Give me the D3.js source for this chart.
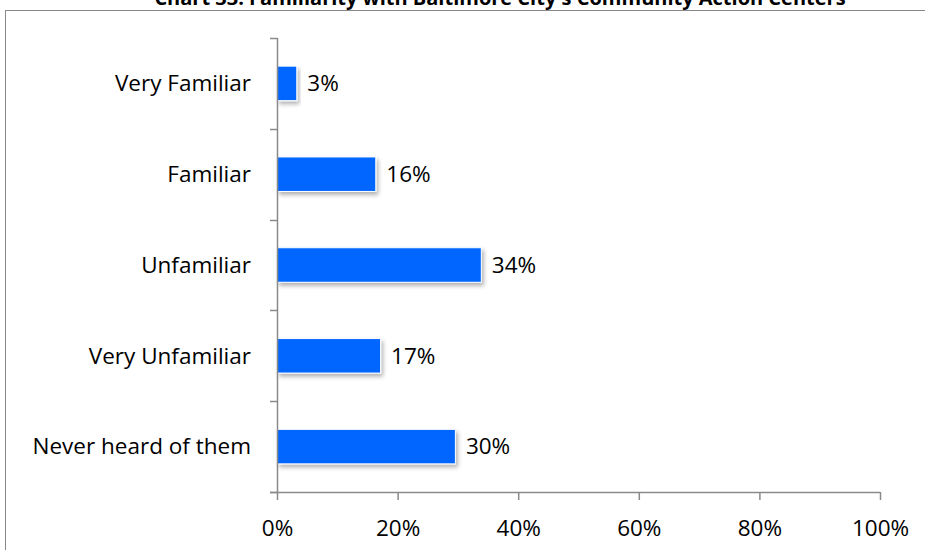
<!DOCTYPE html>
<html>
<head>
<meta charset="utf-8">
<script src="https://cdn.jsdelivr.net/npm/d3@7"></script>
<style>
  body { margin: 0; background: #fff; }
  svg { display: block; }
  text { font-family: "Open Sans", sans-serif; fill: #000; }
</style>
</head>
<body>
<svg id="chart"></svg>
<script>
const title = "Chart 33: Familiarity with Baltimore City's Community Action Centers";
const categories = ["Very Familiar", "Familiar", "Unfamiliar", "Very Unfamiliar", "Never heard of them"];
const values = [3.2, 16.3, 33.8, 17.1, 29.5];
const xTicks = [0, 20, 40, 60, 80, 100];

const width = 925;
const height = 550;
const margin = { top: 38, left: 277, right: 45, bottom: 58 };
const fontSize = "22.5px";

const svg = d3.select("#chart")
    .attr("width", width)
    .attr("height", height);

const defs = svg.append("defs");
const shadow = defs.append("filter")
    .attr("id", "shadow")
    .attr("x", "-10%").attr("y", "-20%")
    .attr("width", "130%").attr("height", "160%");
shadow.append("feDropShadow")
    .attr("dx", 2).attr("dy", 3)
    .attr("stdDeviation", 2)
    .attr("flood-color", "#000")
    .attr("flood-opacity", 0.3);

// outer border of the chart area
svg.append("rect")
    .attr("x", 5.5).attr("y", 10.5)
    .attr("width", width + 10).attr("height", height + 10)
    .attr("fill", "none")
    .attr("stroke", "#888")
    .attr("stroke-width", 1);

svg.append("text")
    .attr("x", 500)
    .attr("y", 5)
    .attr("text-anchor", "middle")
    .style("font-weight", "bold")
    .style("font-size", "20px")
    .text(title);

const bodyWidth = width - margin.left - margin.right;
const bodyHeight = height - margin.top - margin.bottom;

const xScale = d3.scaleLinear()
    .domain([0, 100])
    .range([0, bodyWidth]);

const yScale = d3.scaleBand()
    .domain(categories)
    .range([0, bodyHeight])
    .paddingInner(0.62)
    .paddingOuter(0.31);

const body = svg.append("g")
    .attr("transform", `translate(${margin.left},${margin.top})`);

body.selectAll(".bar")
    .data(categories)
    .enter()
    .append("rect")
    .attr("class", "bar")
    .attr("x", 0.5)
    .attr("y", d => yScale(d))
    .attr("width", (d, i) => xScale(values[i]))
    .attr("height", yScale.bandwidth())
    .attr("fill", "#0066ff")
    .attr("stroke", "#fff")
    .attr("stroke-width", 1)
    .attr("filter", "url(#shadow)");

body.selectAll(".value")
    .data(categories)
    .enter()
    .append("text")
    .attr("class", "value")
    .attr("x", (d, i) => xScale(values[i]) + 11)
    .attr("y", d => yScale(d) + yScale.bandwidth() / 2)
    .attr("dy", "0.35em")
    .style("font-size", fontSize)
    .text((d, i) => Math.round(values[i]) + "%");

// y axis with ticks at category boundaries
const boundaries = d3.range(categories.length + 1).map(i => i * bodyHeight / categories.length);

const axisColor = "#8a8a8a";
body.append("line")
    .attr("x1", 0.5).attr("x2", 0.5)
    .attr("y1", 0).attr("y2", bodyHeight)
    .attr("stroke", axisColor).attr("stroke-width", 1.5);

body.selectAll(".ytick")
    .data(boundaries)
    .enter()
    .append("line")
    .attr("class", "ytick")
    .attr("x1", -7).attr("x2", 0.5)
    .attr("y1", d => Math.round(d) + 0.5)
    .attr("y2", d => Math.round(d) + 0.5)
    .attr("stroke", axisColor).attr("stroke-width", 1.5);

body.selectAll(".ylabel")
    .data(categories)
    .enter()
    .append("text")
    .attr("class", "ylabel")
    .attr("x", -26)
    .attr("y", d => yScale(d) + yScale.bandwidth() / 2)
    .attr("dy", "0.35em")
    .attr("text-anchor", "end")
    .style("font-size", fontSize)
    .text(d => d);

// x axis
const xAxis = d3.axisBottom(xScale)
    .tickValues(xTicks)
    .tickSize(8)
    .tickSizeOuter(0)
    .tickFormat(d => d + "%");

const xg = body.append("g")
    .attr("transform", `translate(0,${bodyHeight})`)
    .call(xAxis);

xg.select(".domain").remove();
xg.append("line")
    .attr("x1", -7).attr("x2", bodyWidth)
    .attr("y1", 0.5).attr("y2", 0.5)
    .attr("stroke", axisColor).attr("stroke-width", 1.5);
xg.selectAll(".tick line")
    .attr("stroke", axisColor)
    .attr("stroke-width", 1.5);
xg.selectAll(".tick text")
    .attr("y", 36)
    .attr("dy", "0.35em")
    .attr("font-family", null)
    .attr("font-size", null)
    .style("font-size", fontSize)
    .attr("fill", "#000");
</script>
</body>
</html>
